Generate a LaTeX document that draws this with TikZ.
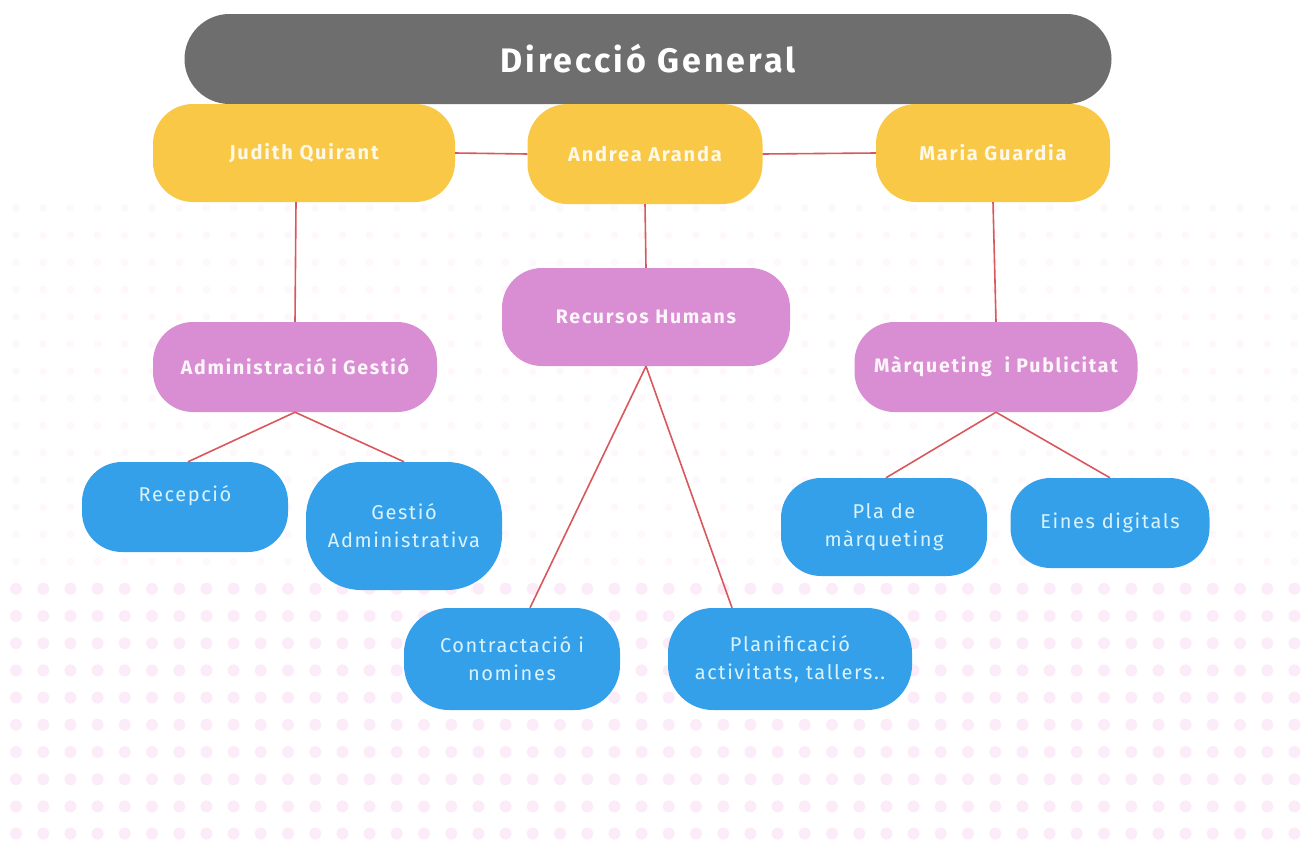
\documentclass[tikz,border=0pt]{standalone}
\usepackage{fontspec}
\setmainfont{Fira Sans}
\usepackage{tikz}
\definecolor{headgray}{HTML}{6E6E6E}
\definecolor{persyellow}{HTML}{F9C846}
\definecolor{areapink}{HTML}{D98DD3}
\definecolor{taskblue}{HTML}{35A0EA}
\definecolor{linered}{HTML}{D9585C}
\definecolor{dotpink}{HTML}{F7CDF2}
\tikzstyle{block} = [rectangle, rounded corners=40pt, align=center, inner sep=0pt]
\tikzstyle{head} = [block, fill=headgray, text=white, rounded corners=45pt,
                 minimum width=927pt, minimum height=90pt,
                 font=\fontsize{34}{40}\selectfont\bfseries\addfontfeatures{LetterSpace=9}]
\tikzstyle{person} = [block, fill=persyellow, text=white!88!persyellow,
                 minimum height=98pt,
                 font=\fontsize{20}{24}\selectfont\bfseries\addfontfeatures{LetterSpace=9}]
\tikzstyle{area} = [block, fill=areapink, text=white!92!areapink,
                 minimum height=90pt,
                 font=\fontsize{19.5}{24}\selectfont\bfseries\addfontfeatures{LetterSpace=9}]
\tikzstyle{task} = [block, fill=taskblue, text=white!85!cyan,
                 font=\fontsize{20}{28}\selectfont\addfontfeatures{LetterSpace=8}]
\tikzstyle{branch} = [draw=linered, line width=1.6pt]

\begin{document}
\begin{tikzpicture}[x=1pt, y=-1pt]

\useasboundingbox (0,0) rectangle (1316,846);
\fill[white] (0,0) rectangle (1316,846);
    	%dots
\foreach \row in {0,...,23} {
	\pgfmathsetmacro{\yy}{208+27.2*\row}
	\pgfmathsetmacro{\op}{\row<14 ? 0.12 : 0.36}
	\pgfmathsetmacro{\rr}{\row<14 ? 4 : 6}
	\foreach \col in {0,...,47}
		\fill[dotpink, opacity=\op] (16+27.2*\col,\yy) circle (\rr);
}

\node [head] at (648,59) (dg) {Direcció General};

\node [person, minimum width=302pt] at (304,153) (jq) {Judith Quirant};
\node [person, minimum width=235pt, minimum height=100pt] at (645,154) (aa) {Andrea Aranda};
\node [person, minimum width=234pt] at (993,153) (mg) {Maria Guardia};

\node [area, minimum width=284pt] at (295,367) (ag) {Administració i Gestió};
\node [area, minimum width=288pt, minimum height=98pt] at (646,317) (rh) {Recursos Humans};
\node [area, minimum width=283pt] at (996,367) (mp) {Màrqueting~ i Publicitat};

\node [task, minimum width=206pt, minimum height=90pt] at (185,507) (rec) {Recepció\\\mbox{}};
\node [task, minimum width=196pt, minimum height=128pt, rounded corners=55pt] at (404,526) (ga) {Gestió\\Administrativa};
\node [task, minimum width=216pt, minimum height=102pt, rounded corners=45pt] at (512,659) (cn) {Contractació i\\nomines};
\node [task, minimum width=244pt, minimum height=102pt, rounded corners=45pt] at (790,659) (pa) {Planificació\\activitats, tallers..};
\node [task, minimum width=206pt, minimum height=98pt] at (884,527) (pm) {Pla de\\màrqueting};
\node [task, minimum width=199pt, minimum height=90pt] at (1110,523) (ed) {Eines digitals};

\path[branch] (jq.east) -- (aa.west);
\path[branch] (aa.east) -- (mg.west);
\path[branch] ([xshift=-8pt]jq.south) -- (ag.north);
\path[branch] (aa.south) -- (rh.north);
\path[branch] (mg.south) -- (mp.north);
\path[branch] (ag.south) -- ([xshift=3pt]rec.north);
\path[branch] (ag.south) -- (ga.north);
\path[branch] (rh.south) -- ([xshift=18pt]cn.north);
\path[branch] (rh.south) -- ([xshift=-58pt]pa.north);
\path[branch] (mp.south) -- ([xshift=2pt]pm.north);
\path[branch] (mp.south) -- (ed.north);

\end{tikzpicture}
\end{document}
